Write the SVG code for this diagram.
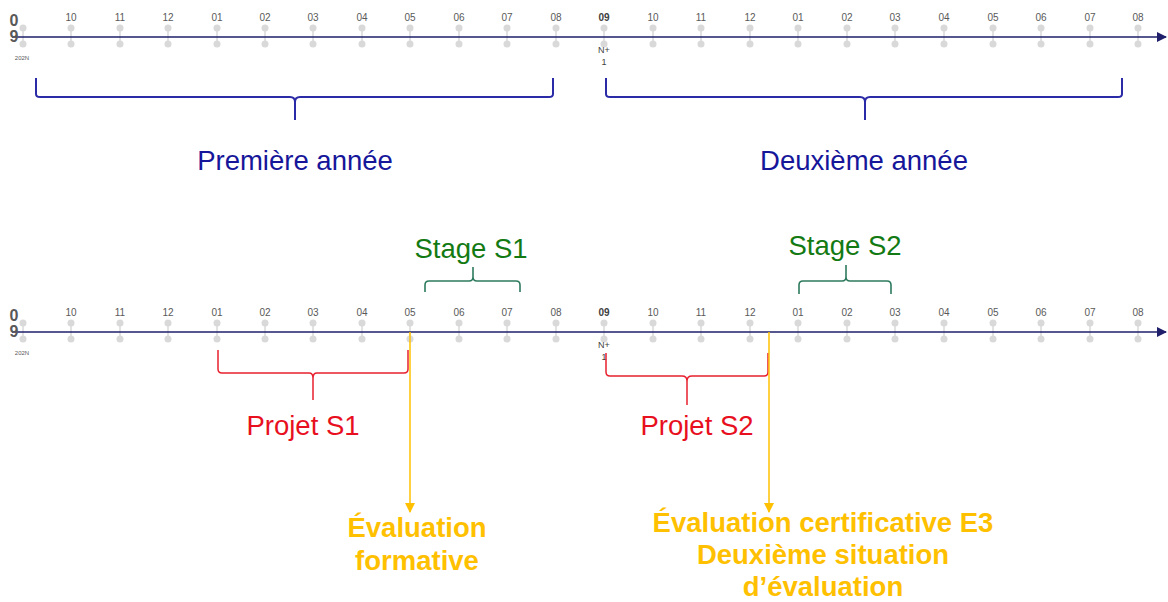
<svg xmlns="http://www.w3.org/2000/svg" xmlns:xlink="http://www.w3.org/1999/xlink" width="1168" height="602" viewBox="0 0 1168 602">
<style>
.tl{font-family:"Liberation Sans",Arial,sans-serif;font-size:10px;fill:#595959;text-anchor:middle}
.tlb{font-family:"Liberation Sans",Arial,sans-serif;font-size:10px;fill:#404040;text-anchor:middle;font-weight:bold}
.big{font-family:"Liberation Sans",Arial,sans-serif;font-size:16px;fill:#595959;text-anchor:middle;font-weight:bold}
.tiny{font-family:"Liberation Sans",Arial,sans-serif;font-size:6px;fill:#595959;text-anchor:middle}
.np{font-family:"Liberation Sans",Arial,sans-serif;font-size:9px;fill:#404040;text-anchor:middle}
.axis{stroke:#1f1f6b;stroke-width:1.5;fill:none}
.blue{font-family:"Liberation Sans",Arial,sans-serif;font-size:27.5px;fill:#16169a;text-anchor:middle}
.green{font-family:"Liberation Sans",Arial,sans-serif;font-size:27.5px;fill:#137a13;text-anchor:middle}
.red{font-family:"Liberation Sans",Arial,sans-serif;font-size:27.5px;fill:#e8101e;text-anchor:middle}
.orange{font-family:"Liberation Sans",Arial,sans-serif;font-size:27.5px;fill:#ffc000;text-anchor:middle;font-weight:bold}
.bb{stroke:#2b2ba8;stroke-width:2;fill:none}
.bg{stroke:#2e7a5e;stroke-width:1.6;fill:none}
.br{stroke:#e8202e;stroke-width:1.5;fill:none}
.ol{stroke:#ffc000;stroke-width:1.5;fill:none}
</style>
<defs>
<g id="tick">
<line x1="0" y1="-9" x2="0" y2="7" stroke="#d9d9d9" stroke-width="1.5"/>
<circle cx="0" cy="-9" r="3.5" fill="#d9d9d9"/>
<circle cx="0" cy="7" r="3.5" fill="#d9d9d9"/>
</g>
<marker id="ah" markerWidth="10" markerHeight="10" refX="9" refY="5" orient="auto" markerUnits="userSpaceOnUse">
<path d="M0,0 L10,5 L0,10 Z" fill="#1f1f6b"/>
</marker>
<marker id="oa" markerWidth="10" markerHeight="10" refX="5" refY="9" orient="0" markerUnits="userSpaceOnUse">
<path d="M0,0 L10,0 L5,10 Z" fill="#ffc000"/>
</marker>
</defs>

<g id="timeline1">
<use href="#tick" x="23" y="37"/><use href="#tick" x="71" y="37"/><use href="#tick" x="120" y="37"/><use href="#tick" x="168" y="37"/><use href="#tick" x="217" y="37"/><use href="#tick" x="265" y="37"/><use href="#tick" x="313" y="37"/><use href="#tick" x="362" y="37"/><use href="#tick" x="410" y="37"/><use href="#tick" x="459" y="37"/><use href="#tick" x="507" y="37"/><use href="#tick" x="556" y="37"/><use href="#tick" x="604" y="37"/><use href="#tick" x="653" y="37"/><use href="#tick" x="701" y="37"/><use href="#tick" x="750" y="37"/><use href="#tick" x="798" y="37"/><use href="#tick" x="847" y="37"/><use href="#tick" x="895" y="37"/><use href="#tick" x="944" y="37"/><use href="#tick" x="993" y="37"/><use href="#tick" x="1041" y="37"/><use href="#tick" x="1090" y="37"/><use href="#tick" x="1138" y="37"/>
<line class="axis" x1="12" y1="37" x2="1166" y2="37" marker-end="url(#ah)"/>
<text class="big" x="14" y="26">0</text><text class="big" x="14" y="42">9</text>
<text class="tiny" x="22" y="60">202N</text>
<text class="tl" x="71" y="21">10</text><text class="tl" x="120" y="21">11</text><text class="tl" x="168" y="21">12</text><text class="tl" x="217" y="21">01</text><text class="tl" x="265" y="21">02</text><text class="tl" x="313" y="21">03</text><text class="tl" x="362" y="21">04</text><text class="tl" x="410" y="21">05</text><text class="tl" x="459" y="21">06</text><text class="tl" x="507" y="21">07</text><text class="tl" x="556" y="21">08</text><text class="tlb" x="604" y="21">09</text><text class="tl" x="653" y="21">10</text><text class="tl" x="701" y="21">11</text><text class="tl" x="750" y="21">12</text><text class="tl" x="798" y="21">01</text><text class="tl" x="847" y="21">02</text><text class="tl" x="895" y="21">03</text><text class="tl" x="944" y="21">04</text><text class="tl" x="993" y="21">05</text><text class="tl" x="1041" y="21">06</text><text class="tl" x="1090" y="21">07</text><text class="tl" x="1138" y="21">08</text>
<text class="np" x="604" y="53">N+</text><text class="np" x="604" y="65">1</text>
</g>

<g id="timeline2">
<use href="#tick" x="23" y="332"/><use href="#tick" x="71" y="332"/><use href="#tick" x="120" y="332"/><use href="#tick" x="168" y="332"/><use href="#tick" x="217" y="332"/><use href="#tick" x="265" y="332"/><use href="#tick" x="313" y="332"/><use href="#tick" x="362" y="332"/><use href="#tick" x="410" y="332"/><use href="#tick" x="459" y="332"/><use href="#tick" x="507" y="332"/><use href="#tick" x="556" y="332"/><use href="#tick" x="604" y="332"/><use href="#tick" x="653" y="332"/><use href="#tick" x="701" y="332"/><use href="#tick" x="750" y="332"/><use href="#tick" x="798" y="332"/><use href="#tick" x="847" y="332"/><use href="#tick" x="895" y="332"/><use href="#tick" x="944" y="332"/><use href="#tick" x="993" y="332"/><use href="#tick" x="1041" y="332"/><use href="#tick" x="1090" y="332"/><use href="#tick" x="1138" y="332"/>
<line class="axis" x1="12" y1="332" x2="1166" y2="332" marker-end="url(#ah)"/>
<text class="big" x="14" y="321">0</text><text class="big" x="14" y="337">9</text>
<text class="tiny" x="22" y="355">202N</text>
<text class="tl" x="71" y="316">10</text><text class="tl" x="120" y="316">11</text><text class="tl" x="168" y="316">12</text><text class="tl" x="217" y="316">01</text><text class="tl" x="265" y="316">02</text><text class="tl" x="313" y="316">03</text><text class="tl" x="362" y="316">04</text><text class="tl" x="410" y="316">05</text><text class="tl" x="459" y="316">06</text><text class="tl" x="507" y="316">07</text><text class="tl" x="556" y="316">08</text><text class="tlb" x="604" y="316">09</text><text class="tl" x="653" y="316">10</text><text class="tl" x="701" y="316">11</text><text class="tl" x="750" y="316">12</text><text class="tl" x="798" y="316">01</text><text class="tl" x="847" y="316">02</text><text class="tl" x="895" y="316">03</text><text class="tl" x="944" y="316">04</text><text class="tl" x="993" y="316">05</text><text class="tl" x="1041" y="316">06</text><text class="tl" x="1090" y="316">07</text><text class="tl" x="1138" y="316">08</text>
<text class="np" x="604" y="348">N+</text><text class="np" x="604" y="360">1</text>
</g>

<g id="connectors">
<path class="bb" d="M36,78 V94 Q36,97 40,97 H290 Q295,97 295,102 V120 M295,102 Q295,97 300,97 H549 Q553,97 553,94 V78"/>
<path class="bb" d="M606,78 V94 Q606,97 610,97 H860 Q865,97 865,102 V120 M865,102 Q865,97 870,97 H1118 Q1122,97 1122,94 V78"/>
<path class="bg" d="M425,292 V285 Q425,281 429,281 H469 Q473,281 473,277 V267 M473,277 Q473,281 477,281 H516 Q520,281 520,285 V292"/>
<path class="bg" d="M799,294 V285 Q799,281 803,281 H842 Q846,281 846,277 V265 M846,277 Q846,281 850,281 H887 Q891,281 891,285 V294"/>
<path class="br" d="M218,350 V369 Q218,373 222,373 H309 Q313,373 313,378 V400 M313,378 Q313,373 317,373 H404 Q408,373 408,369 V350"/>
<path class="br" d="M606,353 V372 Q606,376 610,376 H682 Q687,376 687,381 V405 M687,381 Q687,376 692,376 H764 Q768,376 768,372 V353"/>
<line class="ol" x1="410" y1="332" x2="410" y2="512" marker-end="url(#oa)"/>
<line class="ol" x1="769" y1="332" x2="769" y2="512" marker-end="url(#oa)"/>
</g>

<g id="labels">
<text class="blue" x="295" y="170">Première année</text>
<text class="blue" x="864" y="170">Deuxième année</text>
<text class="green" x="471" y="258">Stage S1</text>
<text class="green" x="845" y="255">Stage S2</text>
<text class="red" x="303" y="435">Projet S1</text>
<text class="red" x="697" y="435">Projet S2</text>
<text class="orange" x="417" y="537">Évaluation</text>
<text class="orange" x="417" y="570">formative</text>
<text class="orange" x="823" y="532">Évaluation certificative E3</text>
<text class="orange" x="823" y="564">Deuxième situation</text>
<text class="orange" x="823" y="596">d’évaluation</text>
</g>
</svg>
